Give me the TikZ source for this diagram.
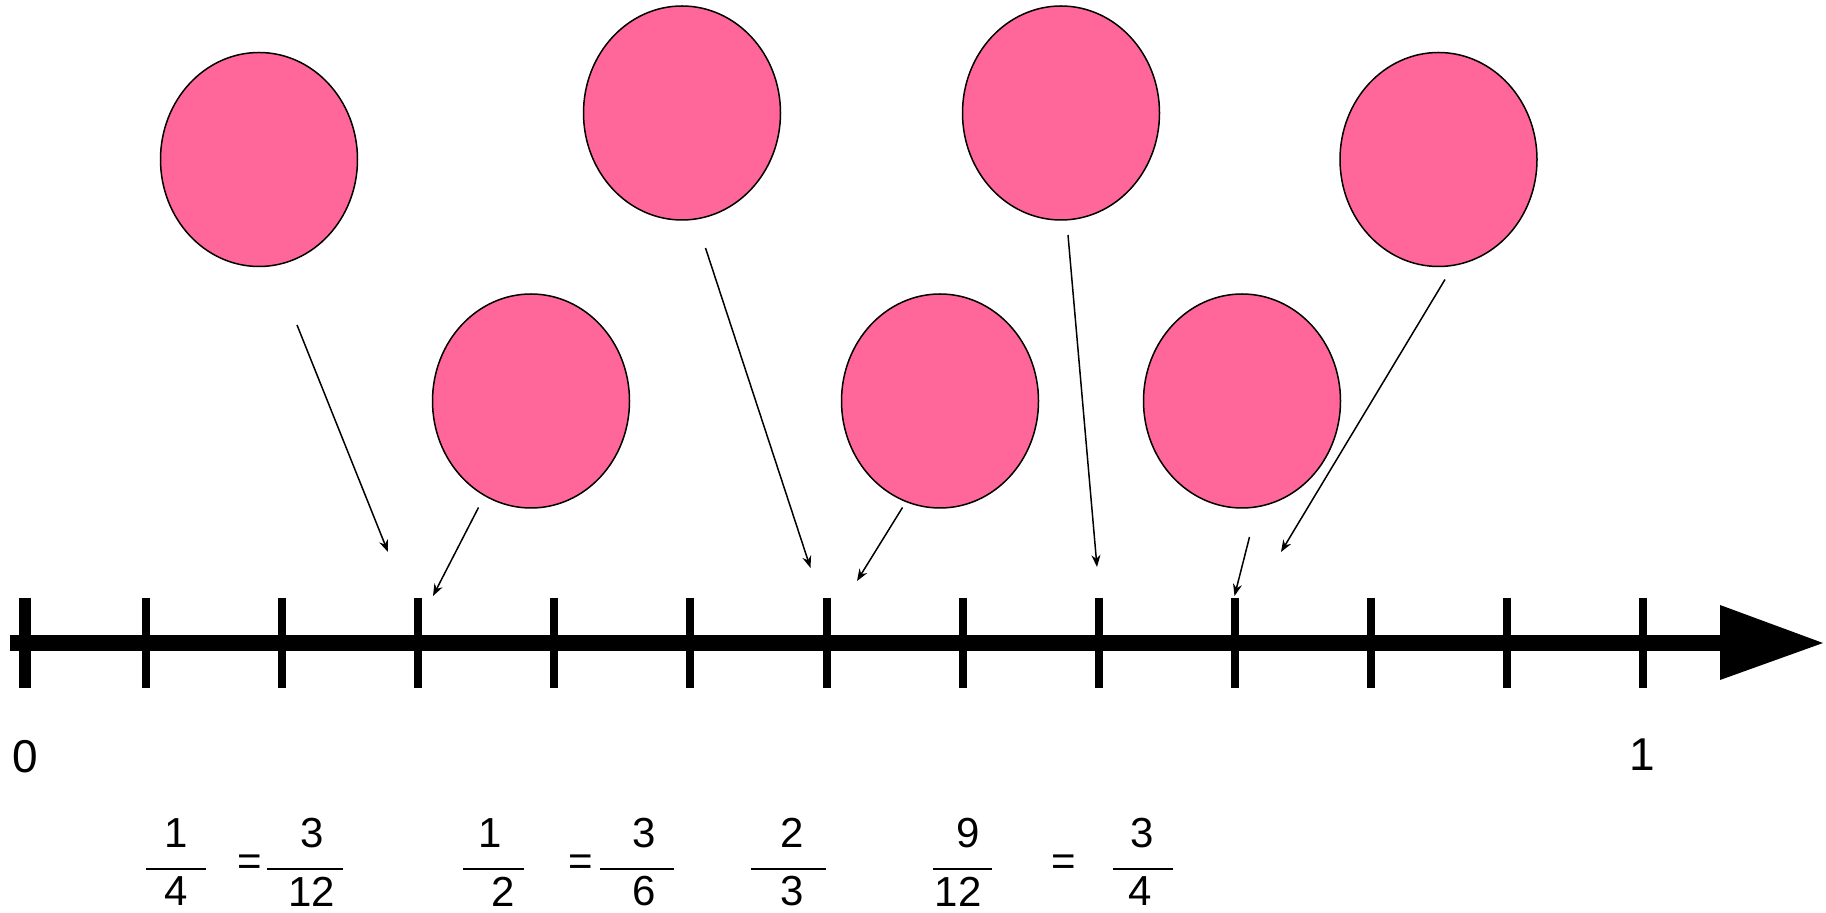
\documentclass[tikz,border=0pt]{standalone}
\usepackage{fontspec}
\setmainfont{Liberation Sans}
\usetikzlibrary{shapes.geometric,arrows.meta}
\definecolor{balloonpink}{RGB}{255,102,153}
\begin{document}
\begin{tikzpicture}[x=0.5pt,y=-0.5pt,
  balloonnode/.style={ellipse,draw=black,line width=0.75pt,fill=balloonpink,minimum width=98.5pt,minimum height=107pt,inner sep=0pt},
  pointer/.style={line width=0.75pt,-{Stealth[length=6pt,width=4.5pt]}},
  tickmark/.style={line width=4pt},
  lbl/.style={font=\fontsize{23}{27}\selectfont,inner sep=0pt},
  fracnum/.style={font=\fontsize{21}{25}\selectfont,inner sep=0pt},
  fracbar/.style={line width=1pt}]
\useasboundingbox (0,0) rectangle (1826,913);
% balloons
\node[balloonnode] (b1) at (259,159.5) {};
\node[balloonnode] (b2) at (682,113) {};
\node[balloonnode] (b3) at (1061,113) {};
\node[balloonnode] (b4) at (1438.5,159.5) {};
\node[balloonnode] (b5) at (531,401) {};
\node[balloonnode] (b6) at (940,401) {};
\node[balloonnode] (b7) at (1242,401) {};
% axis
\coordinate (axstart) at (10,643);
\coordinate (axend) at (1720,643);
\draw[line width=8pt] (axstart) -- (axend);
\fill (1720,605) -- (1823,643) -- (1720,680) -- cycle;
\draw[line width=6pt] (25,598) -- (25,688);
\foreach \i in {1,...,12}{
  \draw[tickmark] ({146+136.1*(\i-1)},598) -- ({146+136.1*(\i-1)},688);
}
% pointers
\coordinate (s1) at (297,325);   \coordinate (e1) at (388,552);
\coordinate (s2) at (478.5,507.5); \coordinate (e2) at (433,596);
\coordinate (s3) at (705.5,248); \coordinate (e3) at (810.5,568);
\coordinate (s4) at (902.5,507.5); \coordinate (e4) at (857,581);
\coordinate (s5) at (1068,235);  \coordinate (e5) at (1097,567);
\coordinate (s6) at (1249.5,537); \coordinate (e6) at (1234.5,596);
\coordinate (s7) at (1445,279.5); \coordinate (e7) at (1281,552);
\foreach \k in {1,...,7}{\draw[pointer] (s\k) -- (e\k);}
% labels
\node[lbl] (zero) at (25,757) {0};
\node[lbl] (one) at (1642,755) {1};
% fractions
\node[fracnum] (n1) at (176,833) {1};
\node[fracnum] (d1) at (176,891.5) {4};
\draw[fracbar] (146,869) -- (206,869);
\node[fracnum] (eq1) at (249.5,865) {=};
\node[fracnum] (n2) at (312,833) {3};
\node[fracnum] (d2) at (312,891.5) {12};
\draw[fracbar] (267,869) -- (343,869);
\node[fracnum] (n3) at (490,833) {1};
\node[fracnum] (d3) at (503,891.5) {2};
\draw[fracbar] (463,869) -- (524,869);
\node[fracnum] (eq2) at (581,865) {=};
\node[fracnum] (n4) at (644,833) {3};
\node[fracnum] (d4) at (644,891.5) {6};
\draw[fracbar] (600,869) -- (674,869);
\node[fracnum] (n5) at (792,833) {2};
\node[fracnum] (d5) at (792,891.5) {3};
\draw[fracbar] (751,869) -- (826,869);
\node[fracnum] (n6) at (968,833) {9};
\node[fracnum] (d6) at (958,891.5) {12};
\draw[fracbar] (933,869) -- (992,869);
\node[fracnum] (eq3) at (1064,865) {=};
\node[fracnum] (n7) at (1142,833) {3};
\node[fracnum] (d7) at (1140,891.5) {4};
\draw[fracbar] (1113,869) -- (1173,869);
\end{tikzpicture}
\end{document}
